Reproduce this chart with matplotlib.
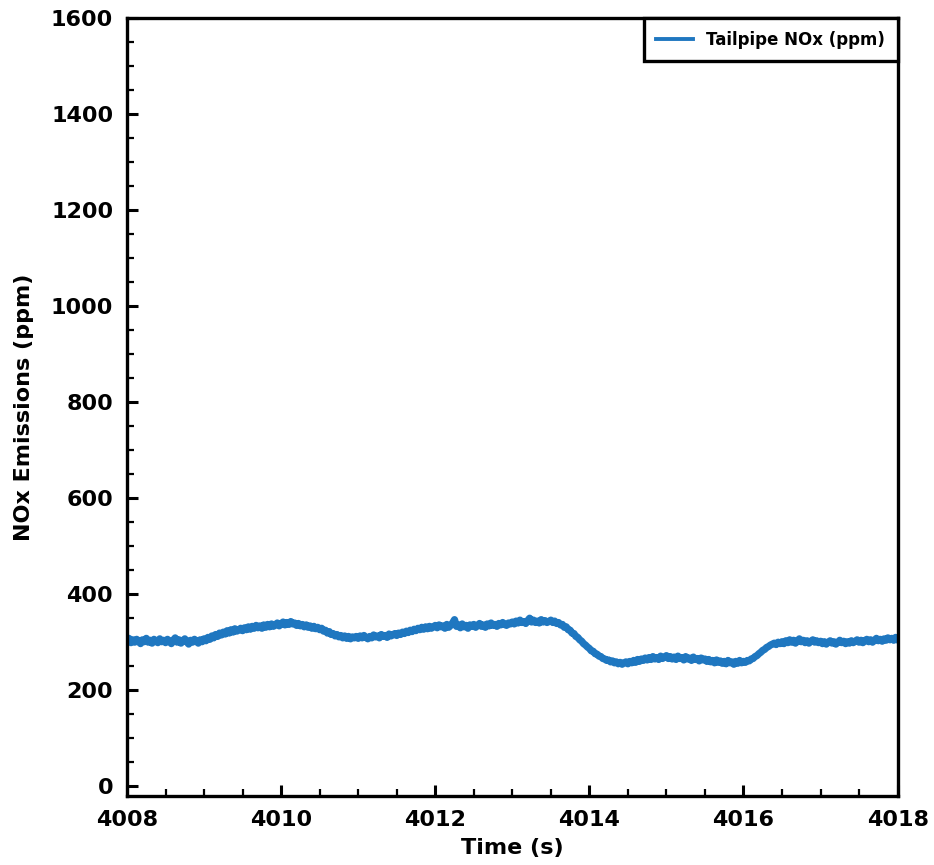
import numpy as np
import matplotlib
matplotlib.use("Agg")
import matplotlib.pyplot as plt
from matplotlib.ticker import MultipleLocator

# Tailpipe NOx trace, sampled every 0.025 s from 4008 s to 4018 s
t_start = 4008.0
t_step = 0.025
nox_ppm = [
    303, 308, 299, 305, 300, 306, 302, 297, 305, 301, 308, 300, 304, 298, 306, 302, 299, 307, 301, 304,
    299, 306, 302, 297, 304, 309, 300, 305, 298, 303, 307, 301, 296, 304, 300, 306, 302, 298, 305, 301,
    307, 303, 310, 306, 313, 309, 316, 312, 319, 315, 321, 317, 324, 319, 326, 321, 328, 323, 325, 329,
    324, 330, 326, 332, 327, 333, 329, 335, 330, 334, 329, 336, 331, 337, 332, 338, 333, 336, 340, 334,
    338, 342, 336, 341, 337, 343, 338, 340, 335, 339, 334, 337, 332, 336, 331, 334, 329, 333, 328, 331,
    326, 329, 323, 325, 319, 322, 316, 318, 313, 316, 311, 314, 309, 313, 308, 312, 307, 311, 309, 312,
    308, 313, 309, 314, 310, 307, 312, 309, 315, 311, 313, 309, 316, 312, 314, 310, 317, 313, 315, 318,
    314, 319, 316, 321, 318, 323, 320, 325, 322, 327, 324, 329, 326, 331, 327, 332, 328, 333, 329, 332,
    335, 330, 336, 332, 334, 329, 337, 331, 335, 340, 347, 333, 336, 330, 338, 332, 335, 329, 336, 333,
    337, 331, 335, 339, 333, 336, 331, 338, 334, 340, 335, 337, 333, 339, 336, 341, 337, 335, 340, 338,
    342, 338, 344, 340, 346, 341, 343, 339, 345, 350, 342, 346, 341, 344, 340, 347, 342, 345, 341, 343,
    346, 341, 344, 339, 341, 336, 337, 331, 332, 326, 325, 319, 318, 312, 310, 305, 302, 297, 294, 290,
    287, 282, 281, 276, 275, 271, 270, 266, 265, 262, 263, 259, 261, 257, 259, 255, 258, 254, 257, 259,
    255, 260, 257, 262, 258, 264, 260, 265, 262, 267, 263, 268, 264, 270, 265, 268, 264, 271, 266, 269,
    272, 266, 270, 265, 269, 264, 271, 266, 268, 263, 270, 265, 267, 262, 269, 264, 266, 261, 267, 263,
    265, 260, 264, 259, 262, 257, 263, 258, 261, 256, 260, 255, 262, 257, 259, 254, 260, 256, 262, 257,
    260, 258, 262, 261, 265, 266, 270, 272, 276, 279, 283, 285, 289, 291, 294, 296, 298, 295, 300, 297,
    301, 297, 303, 299, 305, 300, 304, 298, 302, 307, 301, 304, 299, 303, 298, 302, 305, 300, 303, 299,
    302, 297, 301, 296, 300, 303, 298, 301, 296, 300, 304, 299, 302, 297, 301, 298, 303, 299, 302, 305,
    300, 304, 299, 303, 306, 301, 305, 300, 304, 308, 303, 306, 302, 307, 304, 309, 305, 308, 304, 310,
    306,
]
time_s = t_start + t_step * np.arange(len(nox_ppm))

x_ticks = [4008, 4010, 4012, 4014, 4016, 4018]
y_ticks = [0, 200, 400, 600, 800, 1000, 1200, 1400, 1600]

plt.rcParams["font.family"] = ["DejaVu Sans"]
plt.rcParams["font.weight"] = "bold"

fig = plt.figure(figsize=(9.34, 8.65), dpi=100)
ax = fig.add_axes([0.136, 0.080, 0.825, 0.899])

ax.plot(time_s, nox_ppm, color="#1f77c0", linewidth=5.2, label="Tailpipe NOx (ppm)")

ax.set_xlim(4008, 4018)
ax.set_ylim(-20, 1600)
ax.set_xticks(x_ticks)
ax.set_yticks(y_ticks)
ax.xaxis.set_minor_locator(MultipleLocator(0.5))
ax.yaxis.set_minor_locator(MultipleLocator(50))

ax.tick_params(which="both", direction="in", top=False, right=False)
ax.tick_params(which="major", length=8, width=2.2, labelsize=16, pad=10)
ax.tick_params(which="minor", length=5, width=1.6)
for lbl in ax.get_xticklabels() + ax.get_yticklabels():
    lbl.set_fontweight("bold")

for sp in ax.spines.values():
    sp.set_linewidth(2.4)

ax.set_xlabel("Time (s)", fontsize=16, fontweight="bold", labelpad=6)
ax.set_ylabel("NOx Emissions (ppm)", fontsize=16, fontweight="bold", labelpad=12)

leg = ax.legend(loc="upper right", borderaxespad=0, fancybox=False,
                prop={"weight": "bold", "size": 12}, handlelength=2.2,
                handletextpad=0.8, borderpad=0.75, framealpha=1)
leg.get_frame().set_edgecolor("black")
leg.get_frame().set_linewidth(2.4)
for h in leg.get_lines():
    h.set_linewidth(2.8)

fig.savefig("out.png", dpi=100, facecolor="white")
